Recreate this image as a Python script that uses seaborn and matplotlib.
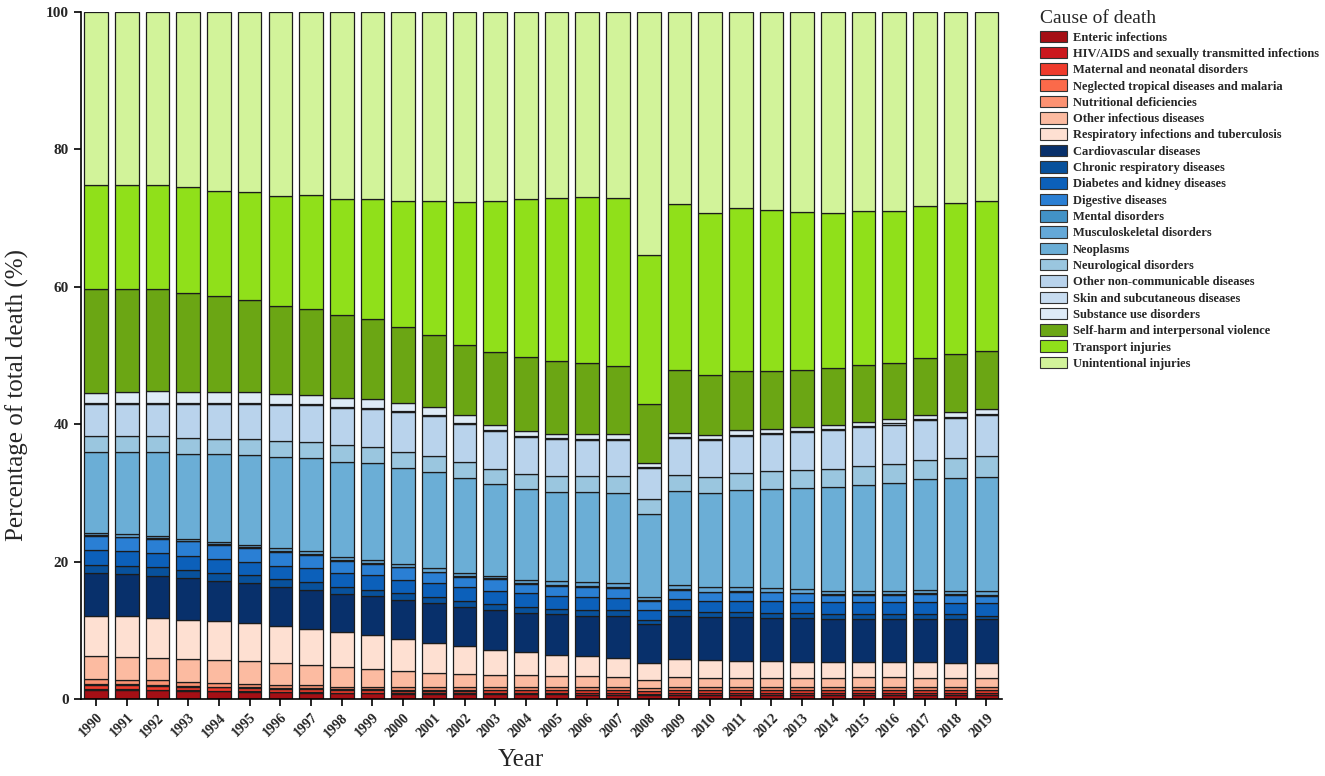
import pandas as pd
import matplotlib.pyplot as plt
import seaborn as sns
from matplotlib.patches import Patch

# Share of total deaths (%) by cause, 1990-2019
years = list(range(1990, 2020))

enteric = [1.40, 1.35, 1.30, 1.20, 1.12, 1.08, 1.00, 0.95, 0.85, 0.83, 0.78, 0.76, 0.74, 0.74, 0.72,
           0.70, 0.68, 0.67, 0.60, 0.66, 0.65, 0.64, 0.64, 0.63, 0.63, 0.62, 0.62, 0.62, 0.61, 0.60]
hiv = [0.08, 0.08, 0.08, 0.09, 0.09, 0.10, 0.10, 0.11, 0.11, 0.12, 0.13, 0.14, 0.15, 0.17, 0.18,
       0.20, 0.21, 0.22, 0.21, 0.24, 0.25, 0.26, 0.27, 0.28, 0.29, 0.30, 0.31, 0.32, 0.33, 0.35]
maternal = [0.60, 0.58, 0.56, 0.52, 0.50, 0.48, 0.45, 0.43, 0.38, 0.37, 0.35, 0.35, 0.36, 0.38, 0.38,
            0.38, 0.38, 0.38, 0.35, 0.37, 0.37, 0.37, 0.37, 0.37, 0.36, 0.36, 0.36, 0.36, 0.36, 0.35]
neglected = [0.15, 0.14, 0.14, 0.13, 0.12, 0.12, 0.11, 0.11, 0.10, 0.10, 0.09, 0.09, 0.09, 0.09, 0.09,
             0.09, 0.09, 0.09, 0.08, 0.09, 0.09, 0.09, 0.08, 0.08, 0.08, 0.08, 0.08, 0.08, 0.08, 0.08]
nutritional = [0.74, 0.70, 0.67, 0.57, 0.53, 0.49, 0.46, 0.43, 0.36, 0.36, 0.37, 0.36, 0.36, 0.37, 0.38,
               0.39, 0.41, 0.41, 0.40, 0.41, 0.42, 0.42, 0.42, 0.42, 0.42, 0.42, 0.41, 0.40, 0.40, 0.40]
other_infectious = [3.31, 3.28, 3.24, 3.28, 3.39, 3.23, 3.14, 2.89, 2.88, 2.66, 2.38, 2.16, 2.02, 1.82, 1.72,
                    1.57, 1.56, 1.46, 1.21, 1.46, 1.36, 1.36, 1.31, 1.31, 1.31, 1.45, 1.45, 1.36, 1.36, 1.31]
respiratory = [5.89, 5.90, 5.79, 5.66, 5.55, 5.56, 5.32, 5.32, 5.03, 4.93, 4.69, 4.35, 3.96, 3.62, 3.39,
               3.14, 2.95, 2.76, 2.41, 2.56, 2.51, 2.41, 2.41, 2.32, 2.32, 2.18, 2.18, 2.27, 2.12, 2.17]
cardio = [6.18, 6.18, 6.19, 6.18, 5.94, 5.80, 5.79, 5.70, 5.60, 5.70, 5.65, 5.75, 5.79, 5.80, 5.70,
          5.85, 5.89, 6.13, 5.61, 6.33, 6.28, 6.38, 6.33, 6.42, 6.28, 6.28, 6.28, 6.28, 6.38, 6.33]
chronic_resp = [1.21, 1.21, 1.21, 1.21, 1.11, 1.20, 1.11, 1.06, 1.06, 0.87, 1.02, 0.87, 0.78, 0.87, 0.82,
                0.82, 0.82, 0.78, 0.67, 0.78, 0.72, 0.72, 0.73, 0.73, 0.72, 0.72, 0.72, 0.72, 0.68, 0.58]
diabetes = [2.13, 2.07, 2.02, 2.03, 2.03, 1.84, 1.94, 2.08, 1.98, 2.12, 1.88, 2.07, 2.03, 1.93, 2.03,
            1.93, 1.93, 1.83, 1.46, 1.69, 1.69, 1.69, 1.78, 1.64, 1.69, 1.69, 1.69, 1.69, 1.69, 1.79]
digestive = [2.08, 2.03, 2.08, 2.07, 2.08, 2.08, 2.03, 1.93, 1.79, 1.60, 1.84, 1.55, 1.54, 1.70, 1.35,
             1.45, 1.45, 1.45, 1.34, 1.30, 1.21, 1.31, 1.21, 1.21, 1.07, 1.07, 1.07, 1.21, 1.16, 1.11]
mental = [0.10, 0.10, 0.10, 0.10, 0.10, 0.10, 0.10, 0.10, 0.10, 0.10, 0.10, 0.10, 0.10, 0.10, 0.10,
          0.10, 0.10, 0.10, 0.10, 0.10, 0.10, 0.10, 0.10, 0.10, 0.10, 0.10, 0.10, 0.10, 0.10, 0.10]
musculoskeletal = [0.28, 0.39, 0.39, 0.24, 0.24, 0.33, 0.38, 0.38, 0.48, 0.48, 0.38, 0.48, 0.44, 0.28, 0.48,
                   0.62, 0.53, 0.58, 0.39, 0.62, 0.63, 0.53, 0.53, 0.53, 0.52, 0.52, 0.52, 0.53, 0.52, 0.62]
neoplasms = [11.79, 11.98, 12.22, 12.42, 12.80, 13.05, 13.28, 13.63, 13.82, 14.06, 14.01, 14.06, 13.76, 13.38, 13.19,
             12.95, 13.19, 13.19, 12.17, 13.68, 13.67, 14.20, 14.45, 14.73, 15.08, 15.37, 15.71, 16.04, 16.43, 16.58]
neurological = [2.32, 2.27, 2.27, 2.32, 2.27, 2.31, 2.32, 2.27, 2.41, 2.36, 2.32, 2.27, 2.37, 2.27, 2.27,
                2.27, 2.32, 2.41, 2.08, 2.27, 2.42, 2.47, 2.56, 2.61, 2.65, 2.70, 2.75, 2.80, 2.90, 3.04]
other_ncd = [4.68, 4.68, 4.68, 4.92, 5.07, 5.17, 5.32, 5.46, 5.41, 5.61, 5.79, 5.80, 5.55, 5.46, 5.36,
             5.32, 5.17, 5.22, 4.59, 5.36, 5.26, 5.31, 5.31, 5.41, 5.56, 5.66, 5.70, 5.80, 5.80, 5.89]
skin = [0.15, 0.15, 0.15, 0.15, 0.15, 0.15, 0.15, 0.15, 0.15, 0.15, 0.15, 0.15, 0.15, 0.15, 0.15,
        0.15, 0.15, 0.15, 0.15, 0.15, 0.15, 0.15, 0.15, 0.15, 0.15, 0.15, 0.15, 0.15, 0.15, 0.15]
substance = [1.51, 1.60, 1.75, 1.65, 1.60, 1.55, 1.40, 1.30, 1.31, 1.26, 1.17, 1.21, 1.11, 0.82, 0.67,
             0.67, 0.67, 0.67, 0.57, 0.67, 0.62, 0.67, 0.67, 0.67, 0.67, 0.67, 0.62, 0.67, 0.72, 0.77]
self_harm = [15.02, 15.03, 14.83, 14.39, 13.91, 13.43, 12.80, 12.47, 12.03, 11.59, 11.01, 10.43, 10.25, 10.59, 10.73,
             10.53, 10.39, 10.01, 8.56, 9.09, 8.71, 8.61, 8.46, 8.32, 8.22, 8.22, 8.22, 8.22, 8.46, 8.36]
transport = [15.21, 15.07, 15.16, 15.32, 15.37, 15.70, 16.04, 16.52, 16.86, 17.54, 18.41, 19.52, 20.72, 21.98, 23.00,
             23.77, 24.16, 24.44, 21.64, 24.16, 23.67, 23.76, 23.34, 22.94, 22.66, 22.41, 22.08, 22.07, 21.93, 21.89]
unintentional = [25.17, 25.21, 25.17, 25.55, 26.03, 26.23, 26.76, 26.71, 27.29, 27.19, 27.48, 27.53, 27.73, 27.48, 27.29,
                 27.10, 26.95, 27.05, 35.41, 28.01, 29.22, 28.55, 28.88, 29.13, 29.22, 29.03, 28.98, 28.31, 27.82, 27.53]

causes = [
    "Enteric infections", "HIV/AIDS and sexually transmitted infections", "Maternal and neonatal disorders",
    "Neglected tropical diseases and malaria", "Nutritional deficiencies", "Other infectious diseases",
    "Respiratory infections and tuberculosis", "Cardiovascular diseases", "Chronic respiratory diseases",
    "Diabetes and kidney diseases", "Digestive diseases", "Mental disorders", "Musculoskeletal disorders",
    "Neoplasms", "Neurological disorders", "Other non-communicable diseases", "Skin and subcutaneous diseases",
    "Substance use disorders", "Self-harm and interpersonal violence", "Transport injuries", "Unintentional injuries",
]
series = [enteric, hiv, maternal, neglected, nutritional, other_infectious, respiratory, cardio, chronic_resp,
          diabetes, digestive, mental, musculoskeletal, neoplasms, neurological, other_ncd, skin, substance,
          self_harm, transport, unintentional]
colors = ["#A50F15", "#CB181D", "#EF3B2C", "#FB6A4A", "#FC9272", "#FCBBA1", "#FEE0D2",
          "#08306B", "#08519C", "#0C60BA", "#2A7FD4", "#4292C6", "#64A8D8", "#6BAED6",
          "#9AC6DF", "#B9D3EC", "#C8DCF0", "#DEEBF7", "#6BA614", "#90E01A", "#D2F39A"]

df = pd.DataFrame({"Year": years, **dict(zip(causes, series))})
df = df.melt(id_vars="Year", var_name="Cause", value_name="Share")

sns.set_style("ticks")
plt.rcParams["font.family"] = ["Liberation Serif", "DejaVu Serif"]

fig = plt.figure(figsize=(13.25, 7.76), dpi=100)
ax = fig.add_axes([0.061, 0.099, 0.695, 0.886])

# first hue level ends up on top of the stack, so reverse the order
sns.histplot(data=df, x="Year", weights="Share", hue="Cause", hue_order=causes[::-1],
             multiple="stack", discrete=True, shrink=0.77, palette=dict(zip(causes, colors)),
             alpha=1, edgecolor="#1c1c1c", linewidth=0.9, legend=False, ax=ax)

ax.set_xlim(1989.5, 2019.5)
ax.set_ylim(0, 100)
ax.set_xticks(years)
ax.set_xticklabels(years, rotation=45, ha="right", rotation_mode="anchor",
                   fontsize=10, fontweight="bold")
ax.set_yticks([0, 20, 40, 60, 80, 100])
ax.set_yticklabels([0, 20, 40, 60, 80, 100], fontsize=11, fontweight="bold")
ax.tick_params(axis="both", length=5, width=1.2, color="black")
ax.set_xlabel("Year", fontsize=18)
ax.set_ylabel("Percentage of total death (%)", fontsize=18)
ax.xaxis.set_label_coords(0.4775, -0.072)
ax.yaxis.set_label_coords(-0.056, 0.443)
for s in ["left", "bottom"]:
    ax.spines[s].set_linewidth(1.2)
    ax.spines[s].set_color("black")
sns.despine(ax=ax)

handles = [Patch(facecolor=c, edgecolor="#333333", linewidth=0.8) for c in colors]
fig.legend(handles, causes, loc="upper left", bbox_to_anchor=(0.783, 0.99), frameon=False,
           title="Cause of death", title_fontsize=14, prop={"weight": "bold", "size": 9},
           handlelength=2.2, handleheight=1.05, labelspacing=0.26, handletextpad=0.45,
           borderpad=0.2, borderaxespad=0, alignment="left")

fig.savefig("out.png", dpi=100)
